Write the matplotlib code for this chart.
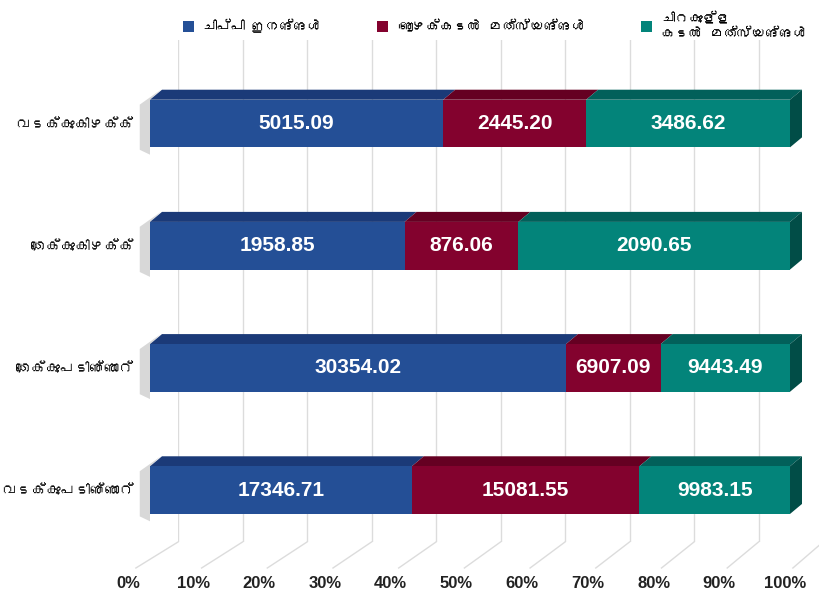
import matplotlib
matplotlib.use("Agg")
import matplotlib.pyplot as plt
from matplotlib import font_manager, ft2font
from matplotlib.patches import Polygon, Rectangle
from matplotlib.lines import Line2D
import numpy as np

# ---------------- data ----------------
categories = ["വടക്കുകിഴക്ക്", "തെക്കുകിഴക്ക്", "തെക്കുപടിഞ്ഞാറ്", "വടക്കുപടിഞ്ഞാറ്"]
series_names = ["ചിപ്പി ഇനങ്ങൾ", "ആഴക്കടൽ മത്സ്യങ്ങൾ", "ചിറകുള്ള\nകടൽ മത്സ്യങ്ങൾ"]
shellfish = [5015.09, 1958.85, 30354.02, 17346.71]
deepsea = [2445.20, 876.06, 6907.09, 15081.55]
finfish = [3486.62, 2090.65, 9443.49, 9983.15]
tick_values = [0, 10, 20, 30, 40, 50, 60, 70, 80, 90, 100]
tick_labels = ["0%", "10%", "20%", "30%", "40%", "50%", "60%", "70%", "80%", "90%", "100%"]

front_colors = ["#244f96", "#83022e", "#03847a"]
top_colors = ["#1b3a78", "#650022", "#02605a"]
side_color = "#014d47"

# ---------------- fonts ----------------
def find_family(ch):
    for f in font_manager.fontManager.ttflist:
        try:
            ft = ft2font.FT2Font(f.fname)
            if ft.get_char_index(ord(ch)):
                return f.name
        except Exception:
            pass
    return None

mal = find_family("വ")
families = ([mal] if mal else []) + ["Liberation Sans", "DejaVu Sans"]
plt.rcParams["font.family"] = families
latin = ["Liberation Sans", "DejaVu Sans"]

W, H = 819, 594
fig = plt.figure(figsize=(W / 100, H / 100), dpi=100)
fig.patch.set_facecolor("white")

def px_rect(x0, y0, x1, y1):
    # pixel box (top-left origin) -> figure fraction [l, b, w, h]
    return [x0 / W, 1 - y1 / H, (x1 - x0) / W, (y1 - y0) / H]

# back wall (gridlines)
ax_wall = fig.add_axes(px_rect(178, 40, 823, 542))
ax_wall.set_xlim(0, 100)
ax_wall.set_ylim(0, 1)
ax_wall.axis("off")
for v in tick_values:
    ax_wall.axvline(v, color="#dcdcdc", lw=1.0)

# floor front (tick labels)
ax_floor = fig.add_axes(px_rect(128, 568, 785, 569))
ax_floor.set_xlim(0, 100)
ax_floor.set_ylim(0, 1)
for s in ax_floor.spines.values():
    s.set_visible(False)
ax_floor.set_yticks([])
ax_floor.set_xticks(tick_values)
ax_floor.set_xticklabels(tick_labels, fontsize=12, fontweight="bold", color="#222222",
                         family=latin)
ax_floor.tick_params(axis="x", length=0, pad=5)
ax_floor.patch.set_alpha(0)

# floor diagonals joining wall to floor front
for v in tick_values:
    p_wall = ax_wall.transData.transform((v, 0))
    p_front = ax_floor.transData.transform((v + 1.2, 1))
    fig.add_artist(Line2D([p_wall[0], p_front[0]], [p_wall[1], p_front[1]],
                          transform=None, color="#dcdcdc", lw=1.0))

# main bars
ax = fig.add_axes(px_rect(150, 60, 790, 550))
ax.patch.set_alpha(0)
ax.set_xlim(0, 100)
ax.set_ylim(-0.49, 3.52)
for s in ax.spines.values():
    s.set_visible(False)
ax.set_xticks([])

n = len(categories)
ypos = np.array([n - 1 - i for i in range(n)], dtype=float)
data = np.array([shellfish, deepsea, finfish], dtype=float)
totals = data.sum(axis=0)
pct = data / totals * 100
bar_h = 0.39
dx = 12 * 100 / 640.0      # depth offset in data units (x)
dy = 10 / 122.0            # depth offset in data units (y)

lefts = np.zeros(n)
for k in range(3):
    ax.barh(ypos, pct[k], left=lefts, height=bar_h, color=front_colors[k],
            edgecolor="none", zorder=3)
    for i in range(n):
        l = lefts[i]
        r = l + pct[k][i]
        top = ypos[i] + bar_h / 2
        ax.add_patch(Polygon([(l, top), (r, top), (r + dx, top + dy), (l + dx, top + dy)],
                             closed=True, facecolor=top_colors[k], edgecolor="none",
                             zorder=2, clip_on=False))
        ax.text((l + r) / 2, ypos[i], f"{data[k][i]:.2f}", ha="center", va="center",
                color="white", fontsize=15, fontweight="bold", family=latin, zorder=5)
    lefts = lefts + pct[k]

# right side faces and left shadow
for i in range(n):
    bot = ypos[i] - bar_h / 2
    top = ypos[i] + bar_h / 2
    r = lefts[i]
    ax.add_patch(Polygon([(r, bot), (r, top), (r + dx, top + dy), (r + dx, bot + dy)],
                         closed=True, facecolor=side_color, edgecolor="none",
                         zorder=2, clip_on=False))
    ax.add_patch(Polygon([(0, bot - 0.06), (0, top), (dx * 0.9, top + dy), (-1.6, top - 0.04), (-1.6, bot - 0.02)],
                         closed=True, facecolor="#c8c8c8", edgecolor="none", alpha=0.7,
                         zorder=1, clip_on=False))

ax.set_yticks(ypos)
ax.set_yticklabels(categories, fontsize=10.5, color="#111111")
ax.tick_params(axis="y", length=0, pad=12)

# legend
handles = [Rectangle((0, 0), 1, 1, facecolor=c, edgecolor="none") for c in front_colors]
fig.legend(handles, series_names, loc="upper left", bbox_to_anchor=(170 / W, 1 - 0 / H),
           ncol=3, frameon=False, fontsize=10, handlelength=0.8, handleheight=0.8,
           columnspacing=4.0, handletextpad=0.7, labelspacing=0.2)

fig.savefig("out.png", dpi=100, facecolor="white")
